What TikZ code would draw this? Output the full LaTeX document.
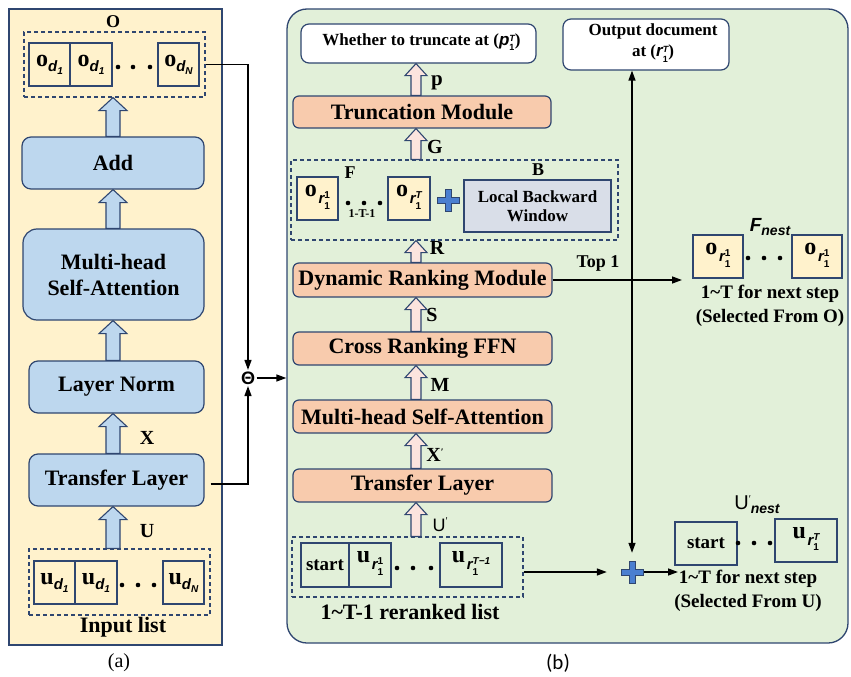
\documentclass[tikz,border=0pt]{standalone}
\usepackage{fontspec}
\setmainfont{Liberation Serif}
\newfontfamily\sansf{Liberation Sans}
\newfontfamily\capf{Carlito}
\usetikzlibrary{arrows.meta,calc}

\definecolor{panelY}{HTML}{FFF2CC}
\definecolor{panelG}{HTML}{E2F0D9}
\definecolor{edge}{HTML}{2F4670}
\definecolor{boxB}{HTML}{BDD7EE}
\definecolor{boxP}{HTML}{F8CBAD}
\definecolor{arrP}{HTML}{FCE4DE}
\definecolor{boxG}{HTML}{D9DEE8}
\definecolor{plusB}{HTML}{4A7FD0}

\newcommand\fs[2]{\fontsize{#1}{#2}\selectfont}
\newcommand\stk[2]{\begin{tabular}{@{}l@{}}#1\\[0.5pt]#2\end{tabular}}
% big bold letter with a sans subscript and a second-level index
\newcommand\ovar[3]{{\fs{24}{24}\bfseries #1}\raisebox{-5pt}{\sansf\bfseries\itshape\fs{15}{15}#2\raisebox{-3pt}{\fs{10}{10}#3}}}
% big bold letter with a sans subscript carrying a stacked sup/sub pair
\newcommand\rvar[4]{{\fs{24}{24}\bfseries #1}\,\raisebox{-7pt}{\sansf\bfseries\itshape\fs{15}{15}#2\raisebox{-1pt}{\upshape\fs{10}{10}\stk{#3}{#4}}}}
% inline letter with stacked sup/sub
\newcommand\letstk[3]{{\sansf\bfseries\itshape #1}\raisebox{-1pt}{\sansf\bfseries\fs{9}{9}\stk{#2}{#3}}}
% wide block arrow between two anchors at a fixed x
\newcommand\barrow[7]{%
  \draw[#1] let \p1=(#3), \p2=(#4), \p3=(#2,0) in
    (\x3-#5,\y1) -- (\x3-#5,\y2-#7) -- (\x3-#6,\y2-#7) -- (\x3,\y2)
    -- (\x3+#6,\y2-#7) -- (\x3+#5,\y2-#7) -- (\x3+#5,\y1) -- cycle;}
% blue plus sign node
\newcommand\plusat[3]{%
  \node[minimum size=24pt, inner sep=0] (#1) at (#2,#3) {};
  \draw[fill=plusB, draw=edge, line width=0.8pt, shift={(#2,#3)}]
    (-11,-3) -- (-3,-3) -- (-3,-11) -- (3,-11) -- (3,-3) -- (11,-3) -- (11,3)
    -- (3,3) -- (3,11) -- (-3,11) -- (-3,3) -- (-11,3) -- cycle;}

\begin{document}
\begin{tikzpicture}[x=1pt,y=-1pt,
  sz/.style 2 args={minimum width=#1pt, minimum height=#2pt},
  panel/.style={draw=edge, line width=1.3pt, inner sep=0},
  bbox/.style={draw=edge, line width=1.2pt, fill=boxB, rounded corners=9pt, inner sep=0, font=\bfseries\fs{22}{26}, align=center},
  pbox/.style={draw=edge, line width=1.2pt, fill=boxP, rounded corners=6pt, inner sep=0, font=\bfseries\fs{22}{24}},
  wbox/.style={draw=edge, line width=1.2pt, fill=white, rounded corners=8pt, inner sep=0, font=\bfseries\fs{17}{21}, align=center},
  cell/.style={draw=edge, line width=1.2pt, inner sep=0},
  ycell/.style={cell, fill=panelY},
  dbox/.style={draw=edge, dash pattern=on 4pt off 3pt, line width=1.1pt, inner sep=0},
  lab/.style={font=\bfseries\fs{20}{20}, inner sep=0},
  conn/.style={line width=1.4pt, -{Triangle[length=10pt,width=7pt]}},
  barL/.style={draw=edge, line width=1.1pt, fill=boxB},
  barR/.style={draw=edge, line width=1.1pt, fill=arrP},
  dot/.style={fill=black}]
\useasboundingbox (0,0) rectangle (851,677);

% ---------------- panel (a) ----------------
\node[panel, fill=panelY, sz={213}{636}] (pa) at (115.5,327) {};
\node[lab, font=\bfseries\fs{18}{18}] (olab) at (113,22) {O};
\node[dbox, sz={181}{65}] (obox) at (114.5,64.5) {};
\node[cell, sz={41}{43}] (o1) at (49.5,64.5) {\ovar{o}{d}{1}};
\node[cell, sz={42}{43}] (o2) at (91,64.5) {\ovar{o}{d}{1}};
\node[cell, sz={41}{43}] (o3) at (178.5,64.5) {\ovar{o}{d}{\itshape N}};
\foreach \x in {118,133,150} \fill[dot] (\x,67) circle (2.3);

\node[bbox, sz={182}{52}] (add) at (113,163) {Add};
\node[bbox, sz={181}{91}, rounded corners=14pt] (mhsa) at (113.5,274.5) {Multi-head\\Self-Attention};
\node[bbox, sz={175}{52}] (ln) at (116.5,387) {Layer Norm};
\node[bbox, sz={175}{52}] (tl) at (116.5,480) {Transfer Layer};
\node[lab] (xlab) at (147,438) {X};
\node[lab] (ulab) at (147,531) {U};

\node[dbox, sz={181}{66}] (ibox) at (119.5,582) {};
\node[cell, sz={41}{43}] (u1) at (54.5,582.5) {\ovar{u}{d}{1}};
\node[cell, sz={42}{43}] (u2) at (96,582.5) {\ovar{u}{d}{1}};
\node[cell, sz={41}{43}] (u3) at (183.5,582.5) {\ovar{u}{d}{\itshape N}};
\foreach \x in {122,138,154} \fill[dot] (\x,585) circle (2.3);
\node[lab, font=\bfseries\fs{22}{22}] (inlab) at (123,627) {Input list};
\node[font=\rmfamily\fs{20}{20}, inner sep=0] (capa) at (119,663) {(a)};

\barrow{barL}{113}{add.north}{obox.south}{7pt}{14pt}{13pt}
\barrow{barL}{113}{mhsa.north}{add.south}{7pt}{14pt}{13pt}
\barrow{barL}{113}{ln.north}{mhsa.south}{7pt}{14pt}{13pt}
\barrow{barL}{113}{tl.north}{ln.south}{7pt}{14pt}{13pt}
\barrow{barL}{113}{ibox.north}{tl.south}{7pt}{14pt}{13pt}

% ---------------- panel (b) ----------------
\node[panel, fill=panelG, rounded corners=20pt, sz={561}{634}] (pb) at (567.5,326) {};

\node[font=\sansf\bfseries\fs{18}{18}, inner sep=1.5pt] (theta) at (248,378) {Θ};
\draw[conn] (obox.east) -| (theta.north);
\draw[conn] ($(tl.east)+(6,4)$) -| (theta.south);
\draw[conn] (theta.east) -- (theta -| pb.west);

\node[wbox, sz={235}{39}] (whether) at (418.5,43.5) {\hspace*{6pt}Whether to truncate at (\letstk{p}{\itshape T}{1})};
\node[pbox, sz={258}{32}] (trunc) at (422,112) {Truncation Module};
\node[dbox, sz={327}{80}] (fbox) at (454.5,200) {};
\node[ycell, sz={41}{43}] (fo1) at (317.5,198.5) {\rvar{o}{r}{1}{1}};
\node[ycell, sz={42}{43}] (fo2) at (409,198.5) {\rvar{o}{r}{\itshape T}{1}};
\foreach \x in {348,364,380} \fill[dot] (\x,203) circle (2.3);
\node[font=\bfseries\fs{12}{12}, inner sep=0] (tlab) at (362,214) {1-T-1};
\node[lab, font=\bfseries\fs{18}{18}] (flab) at (350,173) {F};
\node[lab, font=\bfseries\fs{18}{18}] (blab) at (538,170) {B};
\plusat{plus1}{448}{200}
\node[cell, fill=boxG, sz={147}{52}, font=\bfseries\fs{17}{19}, align=center] (lbw) at (537.5,206) {Local Backward\\Window};

\node[pbox, sz={259}{34}] (drm) at (422.5,280) {Dynamic Ranking Module};
\node[pbox, sz={259}{33}] (crf) at (422.5,348.5) {Cross Ranking FFN};
\node[pbox, sz={259}{33}] (mhsb) at (422.5,416.5) {Multi-head Self-Attention};
\node[pbox, sz={259}{33}] (tlb) at (422.5,485.5) {Transfer Layer};

\node[dbox, sz={231}{60}] (ubox) at (407.5,567) {};
\node[cell, sz={48}{44}, font=\bfseries\fs{19}{19}] (st1) at (325,565) {start};
\node[cell, sz={42}{44}] (ur1) at (370,565) {\rvar{u}{r}{1}{1}};
\foreach \x in {397,413,431} \fill[dot] (\x,568) circle (2.3);
\node[cell, sz={62}{44}] (ur2) at (471,565) {\rvar{u}{r}{\itshape T−1}{1}};
\node[lab, font=\bfseries\fs{22}{22}] (rlist) at (410,612) {1\textasciitilde T-1 reranked list};

% labels beside the block arrows
\node[lab, font=\bfseries\fs{21}{21}] at (437,83) {p};
\node[lab] at (435,147) {G};
\node[lab] at (437,248) {R};
\node[lab] at (432,315) {S};
\node[lab] at (440,385) {M};
\node[lab] at (435,455) {X\raisebox{6pt}{\fs{10}{10}′}};
\node[inner sep=0, font=\sansf\fs{18}{18}] at (440,525) {U\raisebox{7pt}{\fs{10}{10}′}};

\barrow{barR}{416}{trunc.north}{whether.south}{5pt}{11pt}{12pt}
\barrow{barR}{416}{fbox.north}{trunc.south}{5pt}{11pt}{12pt}
\barrow{barR}{416}{drm.north}{fbox.south}{5pt}{11pt}{12pt}
\barrow{barR}{416}{crf.north}{drm.south}{5pt}{11pt}{12pt}
\barrow{barR}{416}{mhsb.north}{crf.south}{5pt}{11pt}{12pt}
\barrow{barR}{416}{tlb.north}{mhsb.south}{5pt}{11pt}{12pt}
\barrow{barR}{416}{ubox.north}{tlb.south}{5pt}{11pt}{12pt}

% right-hand outputs
\node[wbox, sz={166}{51}] (outdoc) at (646,44.5) {\hspace*{14pt}Output document\\\hspace*{14pt}at (\letstk{r}{\itshape T}{1})};
\node[lab, font=\bfseries\fs{18}{18}] (top1) at (598,263) {Top 1};
\coordinate (jn) at (632,280);
\coordinate (fin) at (682,280);
\draw[conn] (drm.east) -- (fin);

\node[inner sep=0] (fnlab) at (770,227) {{\sansf\bfseries\itshape\fs{19}{19}F}\raisebox{-4pt}{\sansf\bfseries\itshape\fs{14}{14}nest}};
\node[ycell, sz={50}{43}] (fn1) at (718,256.5) {\rvar{o}{r}{1}{1}};
\node[ycell, sz={50}{43}] (fn2) at (817,256.5) {\rvar{o}{r}{1}{1}};
\foreach \x in {748,764,780} \fill[dot] (\x,258) circle (2.3);
\node[lab, font=\bfseries\fs{19}{19}] (fnt1) at (770,294) {1\textasciitilde T for next step};
\node[lab, font=\bfseries\fs{19}{19}] (fnt2) at (770,318) {(Selected From O)};

\plusat{plus2}{632}{572}
\draw[conn] (jn) -- (jn |- outdoc.south);
\draw[conn, shorten >=7pt] (jn) -- (plus2.north);
\draw[conn, shorten >=13pt] (ubox.east |- plus2) -- (plus2.west);
\coordinate (nxt) at (678,572);
\draw[conn] (plus2.east) -- (nxt);

\node[inner sep=0] (unlab) at (757,505) {{\sansf\fs{20}{20}U\raisebox{7pt}{\fs{10}{10}′}}\raisebox{-4pt}{\sansf\bfseries\itshape\fs{14}{14}nest}};
\node[cell, sz={62}{43}, font=\bfseries\fs{19}{19}] (st2) at (706,543.5) {start};
\foreach \x in {738,754,770} \fill[dot] (\x,543) circle (2.3);
\node[cell, sz={62}{43}] (urt) at (806,540.5) {\rvar{u}{r}{\itshape T}{1}};
\node[lab, font=\bfseries\fs{19}{19}] (unt1) at (748,579) {1\textasciitilde T for next step};
\node[lab, font=\bfseries\fs{19}{19}] (unt2) at (748,603) {(Selected From U)};

\node[font=\capf\fs{21}{21}, inner sep=0] (capb) at (558,663) {(b)};
\end{tikzpicture}
\end{document}
